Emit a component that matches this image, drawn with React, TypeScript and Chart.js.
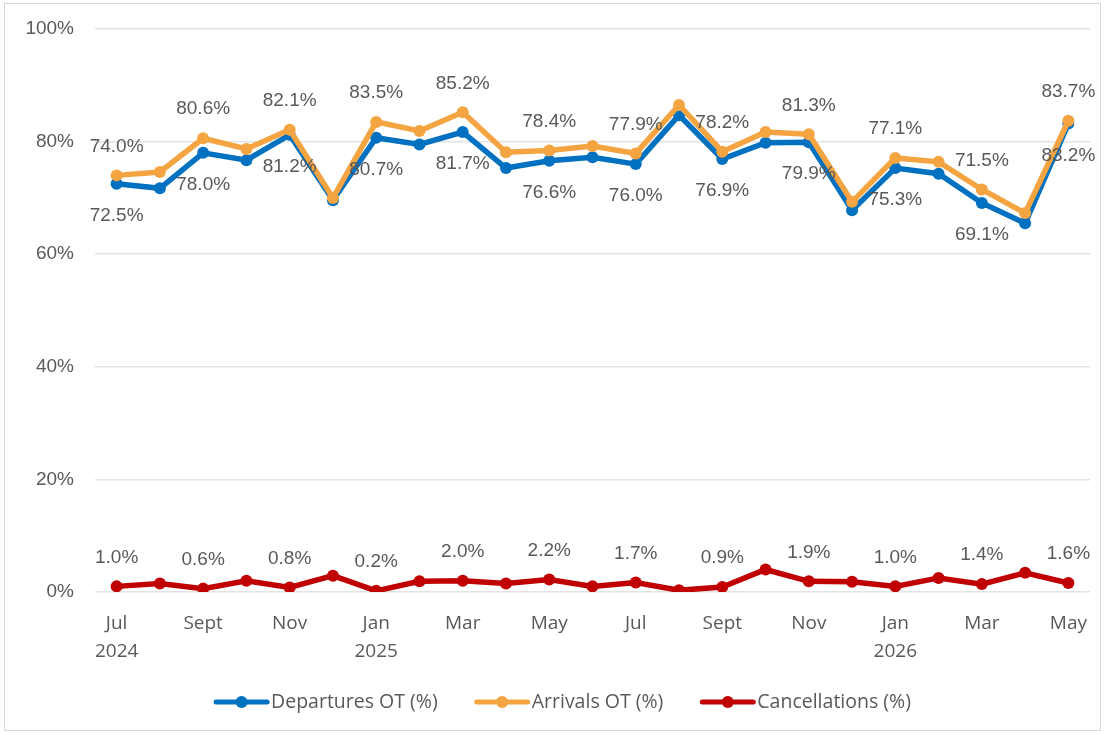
import React, { useEffect, useRef } from "react";
import { Chart, registerables } from "chart.js";

Chart.register(...registerables);

const months = [
  "Jul 2024", "Aug 2024", "Sep 2024", "Oct 2024", "Nov 2024", "Dec 2024",
  "Jan 2025", "Feb 2025", "Mar 2025", "Apr 2025", "May 2025", "Jun 2025",
  "Jul 2025", "Aug 2025", "Sep 2025", "Oct 2025", "Nov 2025", "Dec 2025",
  "Jan 2026", "Feb 2026", "Mar 2026", "Apr 2026", "May 2026",
];

const tickLabels: (string | string[])[] = [
  ["Jul", "2024"], "", "Sept", "", "Nov", "", ["Jan", "2025"], "", "Mar", "", "May", "",
  "Jul", "", "Sept", "", "Nov", "", ["Jan", "2026"], "", "Mar", "", "May",
];

const departures = [72.5, 71.7, 78.0, 76.7, 81.2, 69.6, 80.7, 79.5, 81.7, 75.3, 76.6, 77.2, 76.0, 84.7, 76.9, 79.8, 79.9, 67.8, 75.3, 74.3, 69.1, 65.5, 83.2];
const arrivals = [74.0, 74.6, 80.6, 78.7, 82.1, 70.0, 83.5, 81.9, 85.2, 78.1, 78.4, 79.2, 77.9, 86.5, 78.2, 81.7, 81.3, 69.3, 77.1, 76.4, 71.5, 67.3, 83.7];
const cancellations = [1.0, 1.5, 0.6, 2.0, 0.8, 2.9, 0.2, 1.9, 2.0, 1.5, 2.2, 1.0, 1.7, 0.3, 0.9, 4.0, 1.9, 1.8, 1.0, 2.5, 1.4, 3.4, 1.6];

const seriesNames = ["Departures OT (%)", "Arrivals OT (%)", "Cancellations (%)"];
const seriesColors = ["#0070C0", "#F4A441", "#C00000"];

const TEXT = "#595959";
const NUM_FONT = "'Liberation Sans', Arial, sans-serif";
const CAT_FONT = "'Open Sans', sans-serif";

const dataLabelPlugin = {
  id: "dataLabels",
  afterDatasetsDraw(chart: any) {
    const ctx = chart.ctx;
    ctx.save();
    ctx.font = `19px ${NUM_FONT}`;
    ctx.fillStyle = TEXT;
    ctx.textAlign = "center";
    ctx.textBaseline = "middle";
    chart.data.datasets.forEach((ds: any, di: number) => {
      const meta = chart.getDatasetMeta(di);
      const off = ds.labelOffset as number;
      meta.data.forEach((pt: any, i: number) => {
        if (i % 2 !== 0) return;
        const v = ds.data[i] as number;
        ctx.fillText(v.toFixed(1) + "%", pt.x, pt.y + off);
      });
    });
    ctx.restore();
  },
};

const legendPlugin = {
  id: "customLegend",
  afterDraw(chart: any) {
    const ctx = chart.ctx;
    ctx.save();
    ctx.font = `19.5px ${CAT_FONT}`;
    const lineLen = 55;
    const textGap = 2;
    const itemGap = 37;
    const widths = seriesNames.map((n) => ctx.measureText(n).width);
    const total = widths.reduce((a, w) => a + lineLen + textGap + w, 0) + itemGap * (seriesNames.length - 1);
    let x = chart.width / 2 + 10 - total / 2;
    const y = 698;
    seriesNames.forEach((name, i) => {
      ctx.strokeStyle = seriesColors[i];
      ctx.lineWidth = 5;
      ctx.lineCap = "round";
      ctx.beginPath();
      ctx.moveTo(x + 2, y);
      ctx.lineTo(x + lineLen - 2, y);
      ctx.stroke();
      ctx.fillStyle = seriesColors[i];
      ctx.beginPath();
      ctx.arc(x + lineLen / 2, y, 6, 0, Math.PI * 2);
      ctx.fill();
      ctx.fillStyle = TEXT;
      ctx.textAlign = "left";
      ctx.textBaseline = "middle";
      ctx.fillText(name, x + lineLen + textGap, y);
      x += lineLen + textGap + widths[i] + itemGap;
    });
    ctx.restore();
  },
};

export default function App() {
  const canvasRef = useRef<HTMLCanvasElement | null>(null);

  useEffect(() => {
    if (!canvasRef.current) return;
    const mk = (i: number, data: number[], order: number, labelOffset: number) => ({
      label: seriesNames[i],
      data,
      borderColor: seriesColors[i],
      backgroundColor: seriesColors[i],
      pointBackgroundColor: seriesColors[i],
      pointBorderColor: seriesColors[i],
      borderWidth: 5.5,
      pointRadius: 6,
      pointBorderWidth: 0,
      tension: 0,
      order,
      labelOffset,
    });
    const chart = new Chart(canvasRef.current, {
      type: "line",
      data: {
        labels: months,
        datasets: [
          mk(0, departures, 1, 32),
          mk(1, arrivals, 0, -29),
          mk(2, cancellations, 2, -29),
        ] as any,
      },
      options: {
        animation: false,
        responsive: false,
        maintainAspectRatio: false,
        layout: { padding: { top: 25, right: 10, left: 0, bottom: 0 } },
        plugins: {
          legend: { display: false },
          tooltip: { enabled: false },
        },
        scales: {
          x: {
            offset: true,
            grid: {
              display: true,
              drawOnChartArea: false,
              drawTicks: true,
              tickLength: 18,
              color: "rgba(0,0,0,0)",
              tickColor: "rgba(0,0,0,0)",
            },
            border: { display: false },
            afterFit: (s: any) => { s.height = 138; },
            ticks: {
              autoSkip: false,
              maxRotation: 0,
              padding: 0,
              color: TEXT,
              font: { family: CAT_FONT, size: 19, lineHeight: 1.45 },
              callback: (_v: any, i: number) => tickLabels[i],
            },
          },
          y: {
            min: 0,
            max: 100,
            afterFit: (s: any) => { s.width = 90; },
            grid: {
              color: "#e3e3e3",
              lineWidth: 1.5,
              drawTicks: true,
              tickLength: 21,
              tickColor: "rgba(0,0,0,0)",
            },
            border: { display: false },
            ticks: {
              stepSize: 20,
              padding: 0,
              color: TEXT,
              font: { family: NUM_FONT, size: 19 },
              callback: (v: any) => v + "%",
            },
          },
        },
      },
      plugins: [dataLabelPlugin, legendPlugin],
    });
    return () => chart.destroy();
  }, []);

  return (
    <div
      style={{
        position: "absolute",
        left: 4,
        top: 3,
        width: 1095,
        height: 726,
        border: "1px solid #d6d6d6",
        background: "#ffffff",
      }}
    >
      <canvas ref={canvasRef} width={1095} height={726} style={{ display: "block" }} />
    </div>
  );
}
